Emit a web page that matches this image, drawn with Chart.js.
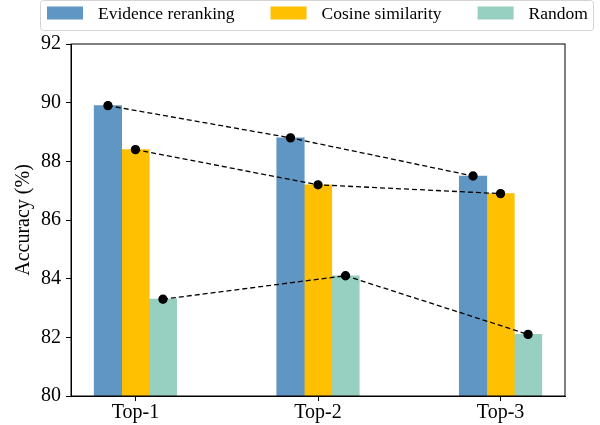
<!DOCTYPE html>
<html>
<head>
<meta charset="utf-8">
<script src="https://cdn.jsdelivr.net/npm/chart.js@4/dist/chart.umd.min.js"></script>
<style>
  html, body { margin: 0; padding: 0; background: #fff; }
  #wrap { width: 600px; height: 425px; }
</style>
</head>
<body>
<div id="wrap"><canvas id="bar-chartcanvas"></canvas></div>
<script>
// data
var categories = ["Top-1", "Top-2", "Top-3"];
var seriesNames = ["Evidence reranking", "Cosine similarity", "Random"];
var evidence = [89.9, 88.8, 87.5];
var cosine = [88.4, 87.2, 86.9];
var random = [83.3, 84.1, 82.1];
var yTicks = [80, 82, 84, 86, 88, 90, 92];

var colors = ["#6096c3", "#fec000", "#97cfc0"];
var allValues = [evidence, cosine, random];
var barShift = 0.1507; // bar width in category units
var serif = "'Liberation Serif', 'Times New Roman', serif";

Chart.defaults.font.family = serif;
Chart.defaults.color = "#000";

// bars and dashed lines share the same x positions
function points(values, j) {
  return values.map(function(v, i) {
    return { x: i + (j - 1) * barShift, y: v };
  });
}

var datasets = [];
allValues.forEach(function(vals, j) {
  datasets.push({
    type: "bar",
    label: seriesNames[j],
    data: points(vals, j),
    backgroundColor: colors[j],
    borderWidth: 0,
    barThickness: 27.5,
    grouped: false,
    order: 2
  });
});
allValues.forEach(function(vals, j) {
  datasets.push({
    type: "line",
    label: "line" + j,
    data: points(vals, j),
    borderColor: "#000",
    borderWidth: 1.3,
    borderDash: [5, 3],
    pointRadius: 4,
    pointBackgroundColor: "#000",
    pointBorderColor: "#000",
    fill: false,
    tension: 0,
    order: 1
  });
});

// frame around the plot, plus the boxed legend on top
var framePlugin = {
  id: "frame",
  afterDraw: function(chart) {
    var c = chart.ctx, a = chart.chartArea;
    c.save();
    c.strokeStyle = "#000";
    c.lineWidth = 1;
    c.strokeRect(a.left, a.top, a.right - a.left, a.bottom - a.top);

    c.strokeStyle = "#d4d4d4";
    c.beginPath();
    if (c.roundRect) c.roundRect(40.5, 0.5, 553, 30, 3);
    else c.rect(40.5, 0.5, 553, 30);
    c.stroke();

    c.font = "17.5px " + serif;
    c.textBaseline = "middle";
    var x = 47, y = 13;
    seriesNames.forEach(function(name, j) {
      c.fillStyle = colors[j];
      c.fillRect(x, y - 6.5, 36, 13);
      x += 36 + 15;
      c.fillStyle = "#000";
      c.fillText(name, x, y + 1);
      x += c.measureText(name).width + 36;
    });
    c.restore();
  }
};

var ctx = document.getElementById("bar-chartcanvas");
var chart = new Chart(ctx, {
  type: "bar",
  data: { datasets: datasets },
  options: {
    responsive: true,
    maintainAspectRatio: false,
    animation: false,
    layout: { padding: { left: 10, right: 35, top: 44, bottom: 0 } },
    plugins: {
      tooltip: { enabled: false },
      legend: { display: false }
    },
    scales: {
      x: {
        type: "linear",
        min: -0.353,
        max: 2.353,
        offset: false,
        afterBuildTicks: function(scale) {
          scale.ticks = categories.map(function(c, i) { return { value: i }; });
        },
        ticks: {
          callback: function(v) { return categories[v]; },
          font: { size: 20 },
          color: "#000",
          padding: 0,
          maxRotation: 0
        },
        grid: { display: true, offset: false, drawOnChartArea: false, tickLength: 5, color: "#000" },
        border: { display: true, color: "#000" }
      },
      y: {
        min: 80,
        max: 92,
        afterBuildTicks: function(scale) {
          scale.ticks = yTicks.map(function(v) { return { value: v }; });
        },
        ticks: { font: { size: 20 }, color: "#000", padding: 5 },
        grid: { display: true, drawOnChartArea: false, tickLength: 5, color: "#000" },
        border: { display: true, color: "#000" },
        title: {
          display: true,
          text: "Accuracy (%)",
          font: { size: 20 },
          color: "#000",
          padding: { top: 2, bottom: 0 }
        }
      }
    }
  },
  plugins: [framePlugin]
});
</script>
</body>
</html>
